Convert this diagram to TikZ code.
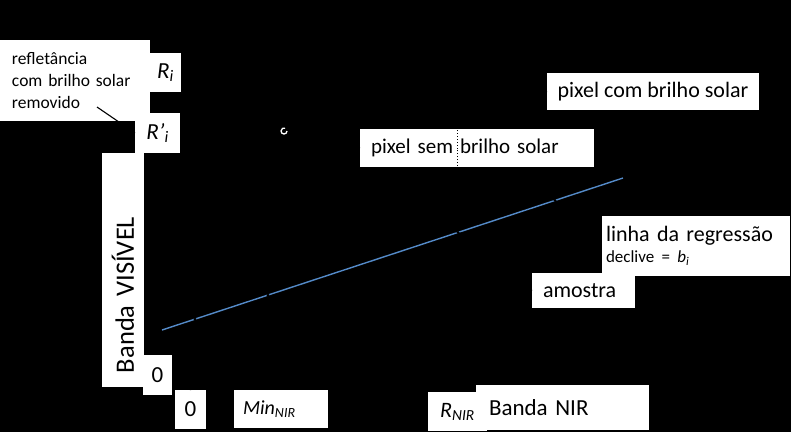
\documentclass[tikz,border=0pt]{standalone}
\usepackage{fontspec}
\setmainfont{Carlito}
\definecolor{regblue}{RGB}{84,138,200}
\tikzset{
  wbox/.style={fill=white, draw=none, inner sep=0pt, outer sep=0pt, text=black, anchor=north west},
  fA/.style={font=\fontsize{22}{25}\selectfont},
  fS/.style={font=\fontsize{21}{24}\selectfont},
  fM/.style={font=\fontsize{20}{24}\selectfont},
  fL/.style={font=\fontsize{23}{26}\selectfont},
  fR/.style={font=\fontsize{17.5}{22}\selectfont},
  fN/.style={font=\fontsize{23}{27}\selectfont},
  fV/.style={font=\fontsize{26.5}{30}\selectfont},
  regline/.style={draw=regblue, line width=1.4pt},
  hidden/.style={draw=black, line width=1.1pt},
  sample/.style={fill=black},
}
\begin{document}
\begin{tikzpicture}[x=1pt,y=-1pt]
\fill[black] (0,0) rectangle (791,432);
\useasboundingbox (0,0) rectangle (791,432);

% regression line and samples
\coordinate (l0) at (162,330);
\coordinate (l1) at (623,178);
\draw[regline] (l0) -- (l1);
\foreach \px/\py in {195/319.1, 268/295.1, 458/232.4, 555/200.4}
  \fill[sample] (\px,\py) circle (1.6);

% white boxes
\node[wbox, fR, minimum width=150pt, minimum height=81pt, text width=126pt, align=left, inner xsep=12pt] (refl) at (0,40) {\mbox{refletância}\\\mbox{com brilho solar}\\\mbox{removido}};
\node[wbox, fL, minimum width=31pt, minimum height=39pt] (Ri) at (150,53) {\textit{R}\textsubscript{\textit{i}}};
\node[wbox, fL, minimum width=45pt, minimum height=40pt] (Rpi) at (135,113) {\textit{R’}\textsubscript{\textit{i}}};
\node[fill=white, inner sep=0pt, outer sep=0pt, text=black, fV, rotate=90, minimum width=234pt, minimum height=42pt, text width=206pt, align=left, inner xsep=14pt] (bandavis) at (123,270) {\mbox{Banda VISÍVEL}};
\node[wbox, fL, minimum width=29pt, minimum height=40pt] (zeroY) at (143,355) {0};
\node[wbox, fL, minimum width=31pt, minimum height=39pt] (zeroX) at (175,390) {0};
\node[wbox, fM, minimum width=94pt, minimum height=38pt, text width=76pt, align=left, inner xsep=9pt] (minnir) at (234,390) {\mbox{\textit{Min}\textsubscript{\textit{NIR}}}};
\node[wbox, fN, minimum width=173pt, minimum height=45pt, text width=147pt, align=left, inner xsep=13pt] (bandanir) at (476,385) {\mbox{Banda NIR}};
\node[wbox, fS, minimum width=234pt, minimum height=38pt, text width=212pt, align=left, inner xsep=11pt] (pixsem) at (360,129) {\mbox{pixel sem brilho solar}};
\node[wbox, fA, minimum width=212pt, minimum height=37pt] (pixcom) at (547,73) {pixel com brilho solar};
\node[wbox, fA, minimum width=188pt, minimum height=60pt, text width=180pt, align=left, inner xsep=4pt] (linha) at (602,216) {\mbox{linha da regressão}\\[-4pt]{\fontsize{17}{20}\selectfont\mbox{declive = \textit{b}\textsubscript{\textit{i}}}}};
\node[wbox, fA, minimum width=103pt, minimum height=35pt, text width=81pt, align=left, inner xsep=11pt] (amostra) at (532,273) {\mbox{amostra}};

% dark connectors (mostly hidden on the black ground)
\draw[hidden] (97,107) -- (Rpi.west);
\coordinate (pcom) at (457,112);
\draw[black, dotted, line width=0.9pt] (457,392) -- (pcom);
\node[wbox, fA, minimum width=59pt, minimum height=39pt] (rnir) at (428,392) {\textit{R}\textsubscript{\textit{NIR}}};
\draw[hidden] (zeroX.north) -- (192,322);
\coordinate (psem) at (288,132);
\draw[hidden] (pixsem.west) -- (psem);
\draw[hidden] (pixcom.west) -- (470,100);
\draw[hidden] (amostra.west) -- (458,232.4);
\draw[hidden] (linha.north west) -- (590,195);

% small white pixel symbol
\draw[white, line width=1.3pt] (287,131) arc[start angle=0, end angle=290, radius=3];
\end{tikzpicture}
\end{document}
